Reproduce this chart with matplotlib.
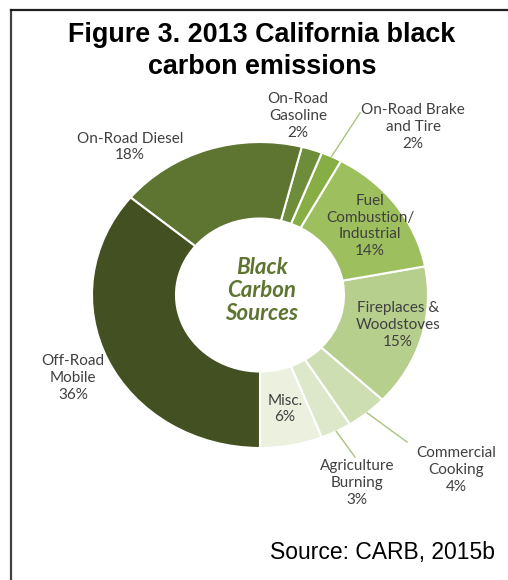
import matplotlib
matplotlib.use("Agg")
import matplotlib.pyplot as plt
from matplotlib.lines import Line2D
import numpy as np

# ---- data ----
categories = ["Misc.", "Agriculture\nBurning", "Commercial\nCooking", "Fireplaces &\nWoodstoves",
              "Fuel\nCombustion/\nIndustrial", "On-Road Brake\nand Tire", "On-Road\nGasoline",
              "On-Road Diesel", "Off-Road\nMobile"]
values = [6, 3, 4, 15, 14, 2, 2, 18, 36]
colors = ["#EBF1DE", "#DDE8CB", "#CDDEB2", "#B6CF8D", "#9DBF5E", "#86AE45", "#6E8D3A", "#5D7531", "#435022"]
title = "Figure 3. 2013 California black\ncarbon emissions"
center_text = "Black\nCarbon\nSources"
source = "Source: CARB, 2015b"

W, H = 508, 580
fig = plt.figure(figsize=(W / 100, H / 100), dpi=100)
fig.patch.set_facecolor("white")

cx, cy, rx, ry = 260, 295, 168, 153
ax = fig.add_axes([(cx - rx) / W, (H - cy - ry) / H, 2 * rx / W, 2 * ry / H])
wedges, _ = ax.pie(values, colors=colors, startangle=-90, counterclock=True,
                   wedgeprops=dict(width=0.5, edgecolor="white", linewidth=1.5))
ax.set_aspect("auto")
ax.set_xlim(-1, 1)
ax.set_ylim(-1, 1)
ax.axis("off")

label_font = dict(family=["Lato", "DejaVu Sans"], fontsize=11, color="#404040",
                  ha="center", va="center", linespacing=1.25)

# label positions (axes data coords)
label_pos = {
    0: (0.149, -0.745),
    1: (0.577, -1.229),
    2: (1.167, -1.144),
    3: (0.821, -0.196),
    4: (0.655, 0.451),
    5: (0.911, 1.098),
    6: (0.226, 1.17),
    7: (-0.774, 0.967),
    8: (-1.113, -0.542),
}
leader_ends = {1: (0.565, -1.059), 2: (0.875, -0.961), 5: (0.595, 1.19)}

total = sum(values)
cum = np.cumsum([0] + values)
for i, (cat, v) in enumerate(zip(categories, values)):
    x, y = label_pos[i]
    ax.text(x, y, f"{cat}\n{v}%", clip_on=False, **label_font)
    if i in leader_ends:
        mid = np.deg2rad(-90 + 360 * (cum[i] + v / 2) / total)
        x0, y0 = np.cos(mid), np.sin(mid)
        x1, y1 = leader_ends[i]
        ax.plot([x0, x1], [y0, y1], color="#A9C47F", lw=1.0, clip_on=False)

ax.text(0.01, 0.03, center_text, family=["Lato", "DejaVu Sans"], fontsize=16,
        fontweight="bold", fontstyle="italic", color="#5D7531",
        ha="center", va="center", linespacing=1.1)

fig.text(262 / W, 1 - 51 / H, title, family=["Liberation Sans", "DejaVu Sans"],
         fontsize=19.4, fontweight="bold", ha="center", va="center", linespacing=1.3)
fig.text(495 / W, 1 - 553 / H, source, family=["Liberation Sans", "DejaVu Sans"],
         fontsize=16.5, ha="right", va="center")

# frame lines (left and top)
fig.add_artist(Line2D([11 / W, 11 / W], [0, 1 - 10 / H], color="#404040", lw=1.6,
                      transform=fig.transFigure))
fig.add_artist(Line2D([11 / W, 1], [1 - 10 / H, 1 - 10 / H], color="#202020", lw=1.6,
                      transform=fig.transFigure))

fig.savefig("out.png", dpi=100)
